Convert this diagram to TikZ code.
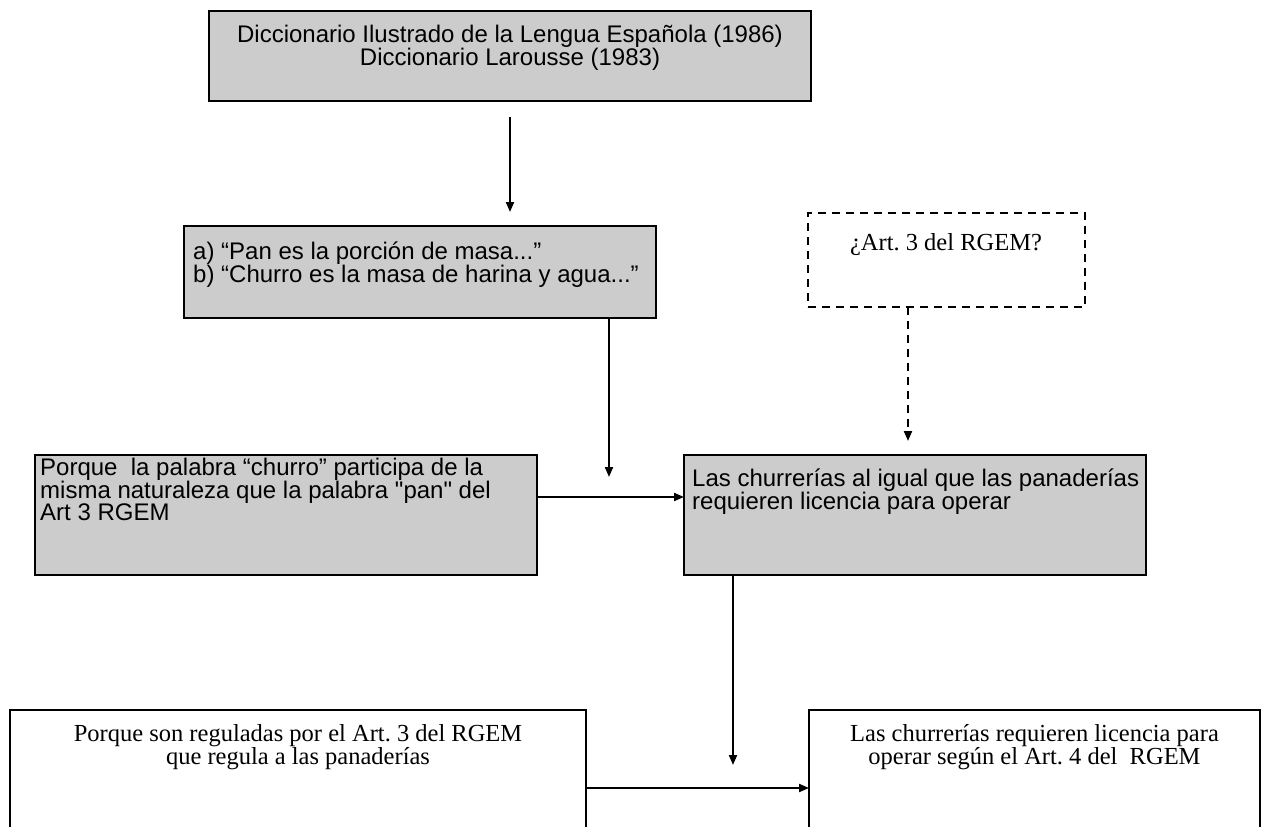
\documentclass[tikz,border=0pt]{standalone}
\usepackage{fontspec}
\setmainfont{Liberation Serif}
\newfontfamily\arialf[Ligatures=TeXOff]{Liberation Sans}
\usetikzlibrary{arrows.meta,calc}
\definecolor{boxgray}{HTML}{CCCCCC}
\frenchspacing
\begin{document}
\begin{tikzpicture}[x=1pt,y=1pt,
  gbox/.style={rectangle,draw=black,line width=2.4pt,fill=boxgray,inner sep=0pt,outer sep=0pt,anchor=north west},
  wbox/.style={rectangle,draw=black,line width=2pt,fill=white,inner sep=0pt,outer sep=0pt,anchor=north west},
  dbox/.style={rectangle,draw=black,line width=2pt,dash pattern=on 8pt off 6pt,inner sep=0pt,outer sep=0pt,anchor=north west},
  sanstxt/.style={font=\arialf\fontsize{24}{22.5}\selectfont,inner sep=0pt,align=left},
  seriftxt/.style={font=\fontsize{24.5}{23}\selectfont,inner sep=0pt,align=center},
  arr/.style={line width=2pt,-{Triangle[length=10pt,width=8pt]}},
  darr/.style={arr,dash pattern=on 8pt off 6pt}]
\useasboundingbox (0,0) rectangle (1264,-827);
\clip (0,0) rectangle (1264,-827);
% boxes
\node[gbox,minimum width=602,minimum height=90] (b1) at (209,-11) {};
\node[gbox,minimum width=472,minimum height=92] (b2) at (184,-226) {};
\node[dbox,minimum width=277,minimum height=94] (db) at (808,-213) {};
\node[gbox,minimum width=502,minimum height=120] (b4) at (35,-455) {};
\node[gbox,minimum width=462,minimum height=120] (b5) at (684,-455) {};
\node[wbox,minimum width=576,minimum height=200] (bl) at (10,-710) {};
\node[wbox,minimum width=451,minimum height=200] (br) at (809,-710) {};
% texts
\node[sanstxt,align=center,anchor=north] (t1) at (510,-25) {Diccionario Ilustrado de la Lengua Española (1986)\\Diccionario Larousse (1983)};
\node[sanstxt,anchor=north west] (t2) at (193,-242) {a) “Pan es la porción de masa...”\\b) “Churro es la masa de harina y agua...”};
\node[seriftxt,anchor=north] (t3) at (946,-233) {¿Art. 3 del RGEM?};
\node[sanstxt,anchor=north west] (t4) at (40,-458) {Porque\ \ la palabra “churro” participa de la\\misma naturaleza que la palabra "pan" del\\Art 3 RGEM};
\node[sanstxt,anchor=north west] (t5) at (692,-469) {Las churrerías al igual que las panaderías\\requieren licencia para operar};
\node[seriftxt,anchor=north] (t6) at (298,-724) {Porque son reguladas por el Art. 3 del RGEM\\que regula a las panaderías};
\node[seriftxt,anchor=north] (t7) at (1034.5,-724) {Las churrerías requieren licencia para\\operar según el Art. 4 del\ \ RGEM};
% connectors
\draw[arr] ($(b1.south)+(0,-16)$) -- ($(b1.south |- b2.north)+(0,14)$);
\coordinate (c2) at (609,-477);
\draw[arr] (c2 |- b2.south) -- (c2);
\coordinate (c3) at (908,-441);
\draw[darr] (c3 |- db.south) -- (c3);
\draw[arr] ([yshift=18pt]b4.east) -- ([yshift=18pt]b5.west);
\coordinate (c5) at (733,-765);
\draw[arr] (c5 |- b5.south) -- (c5);
\draw[arr] ([yshift=-78pt]bl.north east) -- ([yshift=-78pt]br.north west);
\end{tikzpicture}
\end{document}
